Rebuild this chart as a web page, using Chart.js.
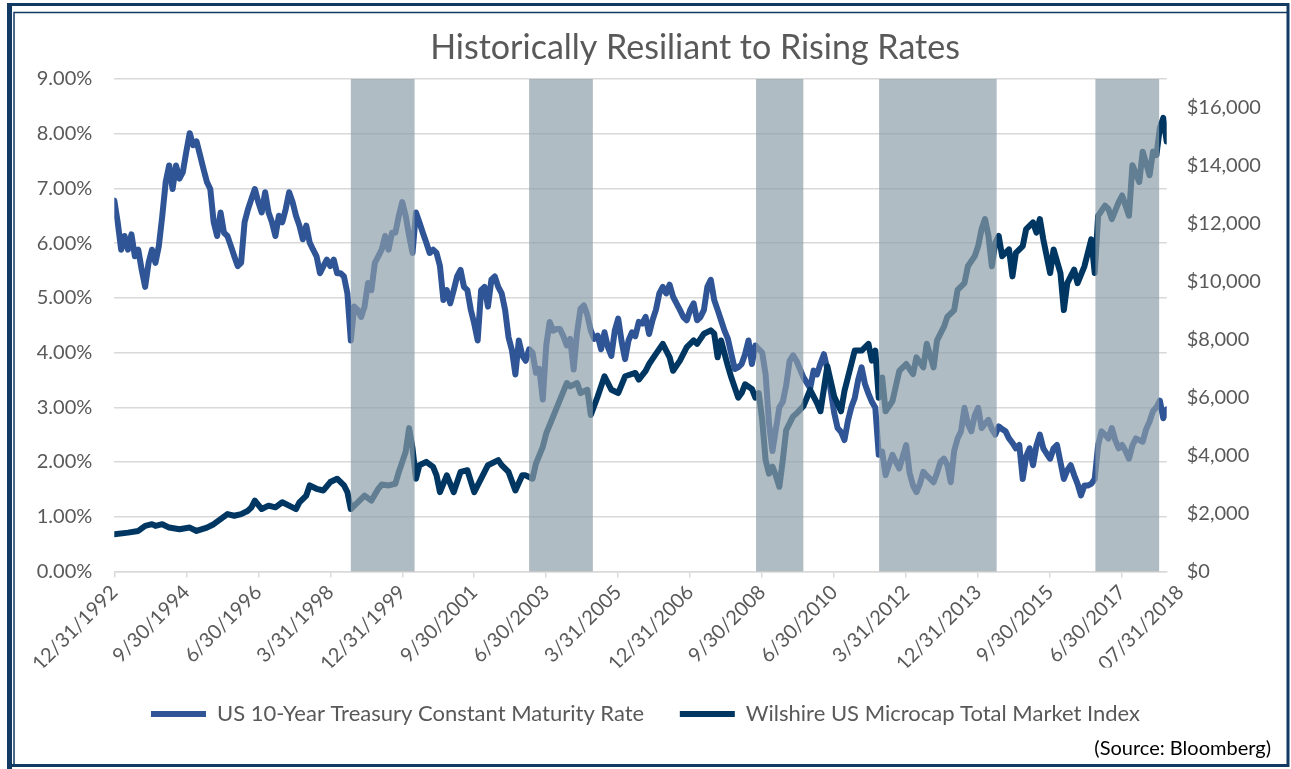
<!DOCTYPE html>
<html>
<head>
<meta charset="utf-8">
<script src="https://cdn.jsdelivr.net/npm/chart.js@4/dist/chart.umd.min.js"></script>
<style>
  html, body { margin: 0; padding: 0; background: #fff; }
  #wrap { width: 1291px; height: 769px; position: relative; }
</style>
</head>
<body>
<div id="wrap"><canvas id="myChart"></canvas></div>
<script>
"use strict";
// donnees (mois depuis 12/1992)
const titleText = "Historically Resiliant to Rising Rates";
const sourceText = "(Source: Bloomberg)";
const seriesNames = ["US 10-Year Treasury Constant Maturity Rate", "Wilshire US Microcap Total Market Index"];

// taux 10 ans, un point par mois (index 0 = 12/1992)
const treasury = [6.78,6.38,5.88,6.13,5.88,6.16,5.76,5.88,5.51,5.2,
5.64,5.88,5.64,5.95,6.5,7.12,7.42,6.99,7.42,7.18,
7.3,7.67,8.01,7.79,7.86,7.61,7.36,7.12,6.99,6.38,
6.13,6.56,6.19,6.13,5.95,5.76,5.58,5.64,6.38,6.62,
6.81,6.99,6.75,6.56,6.93,6.56,6.38,6.13,6.5,6.38,
6.62,6.93,6.75,6.5,6.32,6.07,6.32,6.01,5.88,5.76,
5.45,5.58,5.7,5.58,5.7,5.45,5.45,5.39,5.08,4.22,
4.84,4.78,4.65,4.84,5.27,5.14,5.64,5.76,5.88,6.13,
5.88,6.19,6.19,6.5,6.75,6.5,6.13,5.82,6.56,6.38,
6.19,6.01,5.82,5.88,5.82,5.58,4.96,5.14,4.9,5.14,
5.39,5.51,5.2,5.14,4.78,4.53,4.22,5.14,5.2,4.84,
5.33,5.39,5.2,5.08,4.78,4.28,4.04,3.6,4.22,3.95,
3.85,4.06,4.0,3.63,3.7,3.14,4.13,4.56,4.4,4.43,
4.43,4.3,4.13,4.25,3.69,4.37,4.8,4.86,4.68,4.4,
4.25,4.31,4.06,4.37,4.1,3.94,4.4,4.62,4.2,3.88,
4.22,4.37,4.3,4.56,4.53,4.65,4.34,4.59,4.78,5.08,
5.2,5.08,5.24,5.02,4.9,4.78,4.65,4.59,4.78,4.9,
4.59,4.65,4.78,5.2,5.33,4.96,4.78,4.59,4.4,4.25,
3.97,3.7,3.73,3.79,3.97,4.22,3.79,4.13,4.06,4.0,
3.6,2.7,2.2,2.6,3.0,3.1,3.4,3.85,3.95,3.85,
3.7,3.55,3.45,3.35,3.67,3.6,3.8,3.97,3.7,3.3,
2.9,2.62,2.55,2.4,2.75,3.0,3.17,3.5,3.73,3.42,
3.25,3.1,2.99,2.13,2.19,1.76,1.95,2.13,2.0,1.88,
2.1,2.31,1.8,1.57,1.45,1.6,1.82,1.75,1.69,1.63,
1.8,2.0,2.06,1.95,1.63,2.2,2.43,2.56,2.99,2.7,
2.56,2.85,2.99,2.62,2.7,2.77,2.6,2.5,2.65,2.6,
2.56,2.43,2.35,2.25,2.31,1.69,2.1,2.25,1.94,2.3,
2.5,2.25,2.15,2.06,2.25,2.31,2.0,1.69,1.85,1.94,
1.76,1.6,1.39,1.57,1.57,1.6,1.69,2.31,2.56,2.5,
2.43,2.62,2.4,2.25,2.31,2.2,2.06,2.3,2.43,2.4,
2.37,2.6,2.74,2.93,3.0,3.12,2.8,2.96];

// indice microcap : mois et valeurs
const microcapMonths = [0,4,7,9,11,12,14,16,19,22,24,27,29,31,33,35,37,39,40,41,
43,45,47,49,52,53,54,56,57,59,61,63,65,67,68,69,71,73,75,77,
78,80,82,83,85,86,87,88,89,91,93,94,95,97,99,101,103,105,108,109,
112,113,115,117,119,120,121,122,123,125,126,128,130,132,133,135,136,138,139,141,
143,145,147,149,152,153,155,156,158,160,162,163,165,167,169,170,172,174,175,176,
177,179,180,182,183,184,186,187,188,189,190,191,192,193,194,195,196,198,199,200,
201,203,205,206,208,210,212,213,215,216,218,220,221,222,223,224,225,227,229,231,
233,234,236,237,239,240,242,243,245,246,248,249,251,252,253,254,255,256,257,258,
259,261,262,263,265,266,268,269,270,271,273,274,276,277,278,280,281,283,284,285,
286,287,289,290,291,293,294,296,297,299,300,302,303,304,305,306,307];
const microcap = [1280,1339,1397,1571,1630,1571,1630,1513,1455,1513,1397,1513,1630,1804,1979,1921,1979,2095,2212,2444,
2153,2270,2212,2386,2212,2153,2386,2619,2968,2852,2794,3085,3201,2968,2735,2153,2386,2619,2444,2852,
3000,2968,3026,3434,4132,4947,4249,3201,3667,3783,3608,3317,2735,3317,2735,3434,3492,2735,3434,3667,
3841,3667,3434,2794,3317,3316,3259,3200,3721,4302,4765,5345,5924,6504,6388,6504,6157,6271,5401,6041,
6737,6271,6157,6737,6852,6620,6926,7159,7508,7857,7391,6926,7275,7741,7973,7857,8206,8323,8206,7391,
7973,7085,6693,6000,6157,6460,6300,6000,6157,5228,3836,3374,3617,3300,2921,3836,4880,5350,5450,5575,
5700,6271,5808,5529,7085,6040,5529,6227,7159,7624,7624,7857,7275,7624,5995,6693,5529,5878,6926,7159,
6809,7391,7042,7857,7042,7973,8439,8788,9021,9719,9952,10534,10883,11233,11815,12164,11582,10534,11349,11582,
10883,11116,10185,11000,11233,11815,12047,11698,12164,11465,10301,11116,10301,9021,9952,10418,9952,10534,11000,11465,
10301,12280,12629,12513,12164,12746,12978,12280,14026,13444,14492,13677,14492,14376,15307,15656,14841];

// periodes de hausse des taux (zones grises), en mois
const riseStart = [69, 121, 187.2, 223.1, 286.2];
const riseEnd = [87.6, 139.6, 201, 257.4, 304.8];

// etiquettes des axes
const tickMonths = [0,21,42,63,84,105,126,147,168,189,210,231,252,273,294,311];
const tickLabels = ["12/31/1992","9/30/1994","6/30/1996","3/31/1998","12/31/1999","9/30/2001",
  "6/30/2003","3/31/2005","12/31/2006","9/30/2008","6/30/2010","3/31/2012","12/31/2013",
  "9/30/2015","6/30/2017","07/31/2018"];
const rateTicks = [0,1,2,3,4,5,6,7,8,9];
const dollarTicks = [0,2000,4000,6000,8000,10000,12000,14000,16000];
const lastMonth = 307;

const grey = "#595959";
const fontFam = "Lato, 'Open Sans', sans-serif";

// zones grises dessinees par dessus les courbes
const shadePlugin = {
  id: "shade",
  afterDatasetsDraw(chart){
    const ctx = chart.ctx;
    const x = chart.scales.x;
    const area = chart.chartArea;
    ctx.save();
    ctx.fillStyle = "rgba(140,158,168,0.69)";
    for (let i = 0; i < riseStart.length; i++) {
      const a = x.getPixelForValue(riseStart[i]);
      const b = x.getPixelForValue(riseEnd[i]);
      ctx.fillRect(a, area.top, b - a, area.bottom - area.top);
    }
    ctx.restore();
  }
};

// fond, titre et cadre
const framePlugin = {
  id: "frame",
  beforeDraw(chart){
    const ctx = chart.ctx;
    ctx.save();
    ctx.fillStyle = "#fff";
    ctx.fillRect(0, 0, chart.width, chart.height);
    ctx.restore();
  },
  afterDraw(chart){
    const ctx = chart.ctx;
    ctx.save();
    ctx.fillStyle = grey;
    ctx.font = "34px " + fontFam;
    ctx.textAlign = "center";
    ctx.textBaseline = "middle";
    ctx.fillText(titleText, 695, 48);
    ctx.strokeStyle = "#123a63";
    ctx.lineWidth = 5;
    ctx.beginPath(); ctx.moveTo(9.5, 3); ctx.lineTo(9.5, 769); ctx.stroke();
    ctx.lineWidth = 3;
    ctx.beginPath(); ctx.moveTo(7, 4.5); ctx.lineTo(1289, 4.5); ctx.stroke();
    ctx.beginPath(); ctx.moveTo(1288, 3); ctx.lineTo(1288, 767); ctx.stroke();
    ctx.beginPath(); ctx.moveTo(7, 765.5); ctx.lineTo(1289, 765.5); ctx.stroke();
    ctx.lineWidth = 1.5;
    ctx.beginPath(); ctx.moveTo(14, 764); ctx.lineTo(14, 12.5); ctx.lineTo(1287, 12.5); ctx.stroke();
    ctx.restore();
  }
};

const chartDiv = () => {
  const ctx = document.getElementById("myChart").getContext("2d");
  const config = {
    type: "line",
    data: {
      datasets: [{
        label: seriesNames[0],
        data: treasury.map((v, i) => ({x: i, y: v})),
        borderColor: "#2f5597",
        backgroundColor: "#2f5597",
        borderWidth: 6,
        pointRadius: 0,
        yAxisID: "y",
        order: 2
      }, {
        label: seriesNames[1],
        data: microcapMonths.map((m, i) => ({x: m, y: microcap[i]})),
        borderColor: "#003762",
        backgroundColor: "#003762",
        borderWidth: 6,
        pointRadius: 0,
        yAxisID: "y2",
        order: 1
      }]
    },
    options: {
      responsive: true,
      maintainAspectRatio: false,
      animation: false,
      elements: { line: { tension: 0, borderJoinStyle: "round", borderCapStyle: "round" } },
      layout: { padding: { top: 79, left: 20, right: 20, bottom: 8 } },
      plugins: {
        title: { display: false },
        tooltip: { enabled: false },
        subtitle: {
          display: true,
          text: sourceText,
          position: "bottom",
          align: "end",
          color: "#000",
          font: { family: fontFam, size: 20 },
          padding: { top: 2, bottom: 0 }
        },
        legend: {
          position: "bottom",
          labels: {
            color: grey,
            font: { family: fontFam, size: 22 },
            usePointStyle: true,
            pointStyle: "line",
            pointStyleWidth: 55,
            padding: 35.6,
            sort: (a, b) => a.datasetIndex - b.datasetIndex
          }
        }
      },
      scales: {
        x: {
          type: "linear",
          min: 0,
          max: lastMonth,
          afterBuildTicks: (scale) => { scale.ticks = tickMonths.map(v => ({value: v})); },
          afterFit: (scale) => { scale.height = 96; },
          ticks: {
            autoSkip: false,
            maxRotation: 45,
            minRotation: 45,
            padding: 3,
            color: grey,
            font: { family: fontFam, size: 20 },
            callback: (v, i) => tickLabels[i]
          },
          grid: {
            drawOnChartArea: false,
            drawTicks: true,
            tickLength: 6,
            lineWidth: 1.5,
            color: (c) => (c.tick && c.tick.value > lastMonth) ? "rgba(0,0,0,0)" : "#d9d9d9"
          },
          border: { display: true, color: "#d9d9d9", width: 1.5 }
        },
        y: {
          position: "left",
          min: 0,
          max: 9,
          afterBuildTicks: (scale) => { scale.ticks = rateTicks.map(v => ({value: v})); },
          afterFit: (scale) => { scale.width = 94.3; },
          ticks: {
            padding: 22,
            color: grey,
            font: { family: fontFam, size: 20 },
            callback: (v) => v.toFixed(2) + "%"
          },
          grid: { color: "#d9d9d9", lineWidth: 1.5, drawTicks: false },
          border: { display: false }
        },
        y2: {
          position: "right",
          min: 0,
          max: 17000,
          afterBuildTicks: (scale) => { scale.ticks = dollarTicks.map(v => ({value: v})); },
          afterFit: (scale) => { scale.width = 104.3; },
          ticks: {
            padding: 20,
            color: grey,
            font: { family: fontFam, size: 20 },
            callback: (v) => "$" + v.toLocaleString("en-US")
          },
          grid: { display: false, drawTicks: false },
          border: { display: false }
        }
      }
    },
    plugins: [shadePlugin, framePlugin]
  };
  let myChart = new Chart(ctx, config);
};
chartDiv();
</script>
</body>
</html>
